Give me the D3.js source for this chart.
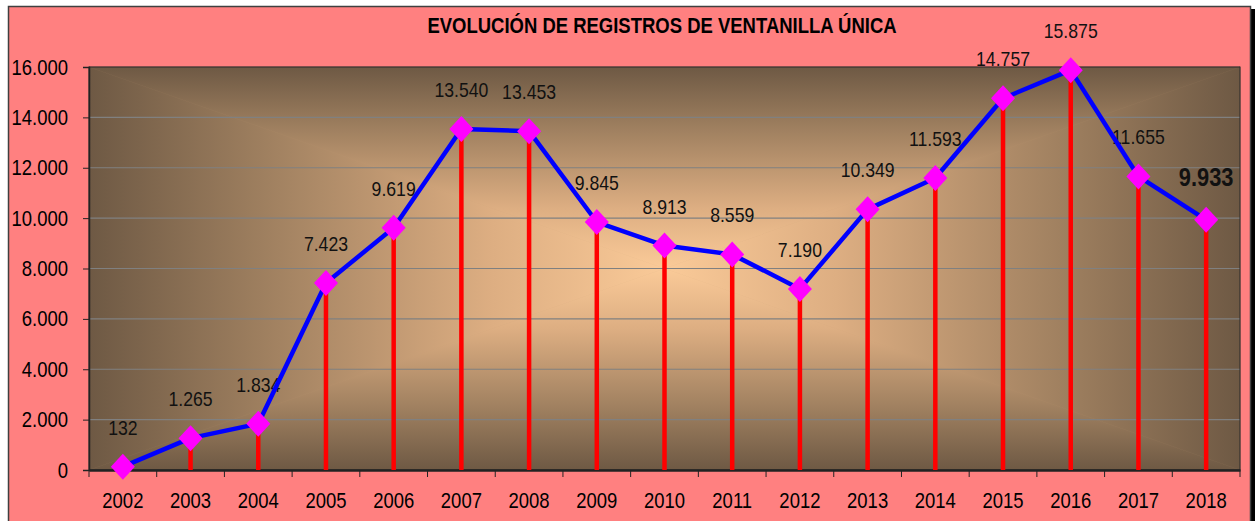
<!DOCTYPE html>
<html>
<head>
<meta charset="utf-8">
<script src="https://cdn.jsdelivr.net/npm/d3@7"></script>
<style>
  body { margin: 0; background: #fff; }
  text { font-family: "Liberation Sans Narrow", "Arial Narrow", "Liberation Sans", Arial, sans-serif; }
</style>
</head>
<body>
<script>
// data
var years = ["2002","2003","2004","2005","2006","2007","2008","2009","2010",
             "2011","2012","2013","2014","2015","2016","2017","2018"];
var registros = [132, 1265, 1834, 7423, 9619, 13540, 13453, 9845, 8913,
                 8559, 7190, 10349, 11593, 14757, 15875, 11655, 9933];
var yTicks = [0, 2000, 4000, 6000, 8000, 10000, 12000, 14000, 16000];
var title = "EVOLUCIÓN DE REGISTROS DE VENTANILLA ÚNICA";

var wx = 1255, hy = 521;
var x0 = 89, y0 = 67, x1 = 1240, y1 = 470;
var narrow = 0.84;   // no Arial Narrow here, so squeeze the regular face

var es = d3.formatLocale({decimal: ",", thousands: ".", grouping: [3], currency: ["", ""]});
var fmt = es.format(",d");

var svg = d3.select("body").append("svg")
    .attr("width", wx)
    .attr("height", hy);

// outer frame with the dark shadow on the right
svg.append("rect")
    .attr("x", 1250).attr("y", 9)
    .attr("width", 5).attr("height", hy)
    .attr("fill", "#000");
svg.append("rect")
    .attr("x", 8.5).attr("y", 6.5)
    .attr("width", 1242).attr("height", hy)
    .attr("fill", "#FF8080")
    .attr("stroke", "#404040")
    .attr("stroke-width", 1.5);

svg.append("text")
    .attr("x", 662).attr("y", 32.5)
    .attr("text-anchor", "middle")
    .attr("font-size", 22)
    .attr("font-weight", "bold")
    .attr("fill", "#000")
    .text(title);

var x = d3.scaleBand().domain(years).range([x0, x1]);
var y = d3.scaleLinear().domain([0, 16000]).range([y1, y0]);

// plot background: rectangular gradient from the centre
var defs = svg.append("defs");
var cx = (x0 + x1) / 2, cy = (y0 + y1) / 2;
var stops = [[0, "#6E5944"], [0.3, "#9E7F5F"], [0.7, "#DDAE82"], [1, "#FACA98"]];

function grad(id, ax, ay, bx, by) {
  var g = defs.append("linearGradient")
      .attr("id", id)
      .attr("gradientUnits", "userSpaceOnUse")
      .attr("x1", ax).attr("y1", ay)
      .attr("x2", bx).attr("y2", by);
  stops.forEach(function(s) {
    g.append("stop").attr("offset", s[0]).attr("stop-color", s[1]);
  });
}
grad("gTop", cx, y0, cx, cy);
grad("gBot", cx, y1, cx, cy);
grad("gLeft", x0, cy, cx, cy);
grad("gRight", x1, cy, cx, cy);

svg.append("rect")
    .attr("x", x0).attr("y", y0)
    .attr("width", x1 - x0).attr("height", y1 - y0)
    .attr("fill", "#C09870");

var tris = [
  ["gTop",   [[x0, y0], [x1, y0], [cx, cy]]],
  ["gBot",   [[x0, y1], [x1, y1], [cx, cy]]],
  ["gLeft",  [[x0, y0], [x0, y1], [cx, cy]]],
  ["gRight", [[x1, y0], [x1, y1], [cx, cy]]]
];
svg.selectAll("path.bg")
    .data(tris)
  .enter().append("path")
    .attr("class", "bg")
    .attr("d", function(d) { return "M" + d[1].join("L") + "Z"; })
    .attr("fill", function(d) { return "url(#" + d[0] + ")"; })
    .attr("stroke", function(d) { return "url(#" + d[0] + ")"; })
    .attr("stroke-width", 0.6);

// gridlines
svg.selectAll("line.grid")
    .data(yTicks.slice(1, -1))
  .enter().append("line")
    .attr("x1", x0).attr("x2", x1)
    .attr("y1", function(d) { return y(d); })
    .attr("y2", function(d) { return y(d); })
    .attr("stroke", "#808080")
    .attr("stroke-width", 1.2);

// plot border
svg.append("rect")
    .attr("x", x0).attr("y", y0)
    .attr("width", x1 - x0).attr("height", y1 - y0)
    .attr("fill", "none")
    .attr("stroke", "#2a2a2a")
    .attr("stroke-width", 1);

// y axis
var yAxis = svg.append("g")
    .attr("transform", "translate(" + x0 + ",0)")
    .call(d3.axisLeft(y).tickValues(yTicks).tickFormat(fmt).tickSize(6).tickPadding(15));
yAxis.select(".domain").attr("stroke", "#222").attr("stroke-width", 1.5);
yAxis.selectAll(".tick line").attr("stroke", "#222");
yAxis.selectAll("text")
    .attr("font-size", 22)
    .attr("fill", "#000")
    .attr("font-family", null);

// x axis: labels in the middle of each band, ticks on the band edges
var xAxis = svg.append("g")
    .attr("transform", "translate(0," + y1 + ")")
    .call(d3.axisBottom(x).tickSize(0).tickPadding(22));
xAxis.select(".domain").attr("stroke", "#222").attr("stroke-width", 2.5);
xAxis.selectAll("text")
    .attr("font-size", 22)
    .attr("fill", "#000")
    .attr("font-family", null);

var edges = years.map(function(d) { return x(d); }).concat([x1]);
svg.selectAll("line.xtick")
    .data(edges)
  .enter().append("line")
    .attr("x1", function(d) { return d; })
    .attr("x2", function(d) { return d; })
    .attr("y1", y1).attr("y2", y1 + 7)
    .attr("stroke", "#222");

var pts = years.map(function(d, i) {
  return {year: d, v: registros[i], px: x(d) + x.bandwidth() / 2, py: y(registros[i])};
});
var last = pts.length - 1;

// data labels (drawn under the line, like the original)
svg.selectAll("text.lbl")
    .data(pts)
  .enter().append("text")
    .attr("class", "lbl")
    .attr("x", function(d) { return d.px; })
    .attr("y", function(d, i) { return d.py - (i === last ? 34 : 32); })
    .attr("text-anchor", "middle")
    .attr("font-size", function(d, i) { return i === last ? 26 : 21; })
    .attr("font-weight", function(d, i) { return i === last ? "bold" : "normal"; })
    .attr("fill", "#111")
    .text(function(d) { return fmt(d.v); });

// red drop lines
svg.selectAll("line.drop")
    .data(pts)
  .enter().append("line")
    .attr("x1", function(d) { return d.px; })
    .attr("x2", function(d) { return d.px; })
    .attr("y1", y(0))
    .attr("y2", function(d) { return d.py; })
    .attr("stroke", "#FF0000")
    .attr("stroke-width", 4.5);

// blue line
svg.append("path")
    .datum(pts)
    .attr("d", d3.line().x(function(d) { return d.px; }).y(function(d) { return d.py; }))
    .attr("fill", "none")
    .attr("stroke", "#0000FF")
    .attr("stroke-width", 4.5)
    .attr("stroke-linejoin", "round");

// magenta diamonds
svg.selectAll("path.mark")
    .data(pts)
  .enter().append("path")
    .attr("class", "mark")
    .attr("d", "M0,-13L12,0L0,13L-12,0Z")
    .attr("transform", function(d) { return "translate(" + d.px + "," + d.py + ")"; })
    .attr("fill", "#FF00FF");

// squeeze every text to a narrow width
svg.selectAll("text").each(function() {
  var w = this.getComputedTextLength();
  d3.select(this)
    .attr("textLength", w * narrow)
    .attr("lengthAdjust", "spacingAndGlyphs");
});
</script>
</body>
</html>
